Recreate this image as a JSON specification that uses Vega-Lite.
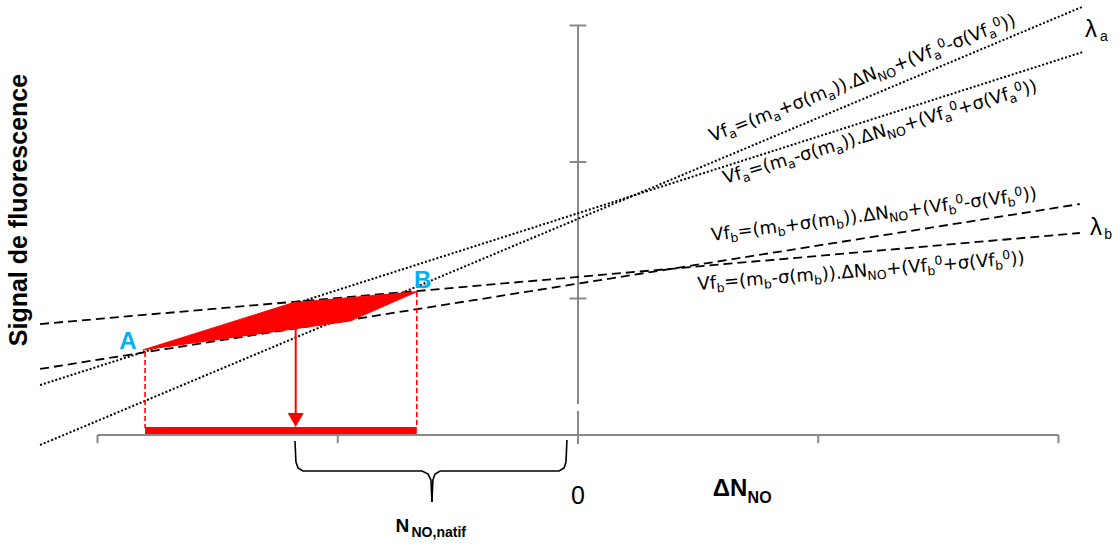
{
"$schema": "https://vega.github.io/schema/vega-lite/v6.json",
"width": 1120, "height": 547, "padding": 0, "autosize": {"type": "none"},
"background": "#ffffff",
"config": {"view": {"stroke": null}},
"datasets": {
"axis": [
{"x": -20, "y": 0, "x2": 20, "y2": 0},
{"x": -20, "y": 0, "x2": -20, "y2": -0.6},
{"x": -10, "y": 0, "x2": -10, "y2": -0.6},
{"x": 10, "y": 0, "x2": 10, "y2": -0.6},
{"x": 20, "y": 0, "x2": 20, "y2": -0.6},
{"x": 0, "y": 30, "x2": 0, "y2": 2.27},
{"x": 0, "y": 1.76, "x2": 0, "y2": -0.66},
{"x": -0.35, "y": 10, "x2": 0.35, "y2": 10},
{"x": -0.35, "y": 20, "x2": 0.35, "y2": 20},
{"x": -0.35, "y": 30, "x2": 0.35, "y2": 30}
],
"dotted": [
{"x": -22.39, "y": -0.73, "x2": 20.98, "y2": 31.36},
{"x": -22.39, "y": 3.66, "x2": 21.02, "y2": 28.06}
],
"dashed": [
{"x": -22.39, "y": 8.13, "x2": 20.89, "y2": 14.80},
{"x": -22.39, "y": 4.84, "x2": 20.89, "y2": 16.92}
],
"poly": [
{"o": 1, "x": -18.11, "y": 6.23},
{"o": 2, "x": -11.86, "y": 9.69},
{"o": 3, "x": -6.71, "y": 10.50},
{"o": 4, "x": -9.49, "y": 8.35},
{"o": 5, "x": -18.11, "y": 6.23}
],
"reddash": [
{"x": -18.02, "y": 6.08, "x2": -18.02, "y2": 0.51},
{"x": -6.71, "y": 10.48, "x2": -6.71, "y2": 0.51}
],
"redbar": [{"x": -18.02, "y": 0.33, "x2": -6.71, "y2": 0.33}],
"arrow": [{"x": -11.75, "y": 7.91, "x2": -11.75, "y2": 1.54}],
"head": [{"x": -11.75, "y": 1.10}],
"brace": [
{"g": "L", "o": 1, "x": -11.78, "y": -0.44},
{"g": "L", "o": 2, "x": -11.74, "y": -1.98},
{"g": "L", "o": 3, "x": -11.65, "y": -2.42},
{"g": "L", "o": 4, "x": -11.45, "y": -2.64},
{"g": "L", "o": 5, "x": -6.49, "y": -2.64},
{"g": "L", "o": 6, "x": -6.24, "y": -2.86},
{"g": "L", "o": 7, "x": -6.12, "y": -3.30},
{"g": "L", "o": 8, "x": -6.08, "y": -4.91},
{"g": "R", "o": 1, "x": -0.46, "y": -0.37},
{"g": "R", "o": 2, "x": -0.50, "y": -1.98},
{"g": "R", "o": 3, "x": -0.58, "y": -2.42},
{"g": "R", "o": 4, "x": -0.79, "y": -2.64},
{"g": "R", "o": 5, "x": -5.74, "y": -2.64},
{"g": "R", "o": 6, "x": -5.95, "y": -2.86},
{"g": "R", "o": 7, "x": -6.04, "y": -3.30},
{"g": "R", "o": 8, "x": -6.08, "y": -4.91}
],
"ylabel": [{"x": -22.93, "y": 16.48, "t": "Signal de fluorescence"}],
"ab": [{"x": -18.73, "y": 6.30, "t": "A"}, {"x": -6.47, "y": 10.77, "t": "B"}],
"zero": [{"x": 0, "y": -5.05, "t": "0"}],
"dn": [{"x": 5.61, "y": -4.47, "t": "ΔN"}],
"dnsub": [{"x": 7.06, "y": -4.96, "t": "NO"}],
"nat": [{"x": -7.60, "y": -7.08, "t": "N"}],
"natsub": [{"x": -6.93, "y": -7.45, "t": "NO,natif"}],
"lam": [{"x": 21.10, "y": 29.16, "t": "λ"}, {"x": 21.31, "y": 14.65, "t": "λ"}],
"lamsub": [{"x": 21.73, "y": 28.86, "t": "a"}, {"x": 21.90, "y": 14.36, "t": "b"}],
"eq": [
{"eq": "a1", "p": "m", "t": "Vf", "x": 5.578, "y": 21.465},
{"eq": "a1", "p": "sub", "t": "a", "x": 6.302, "y": 21.955},
{"eq": "a1", "p": "m", "t": "=(m", "x": 6.600, "y": 22.156},
{"eq": "a1", "p": "sub", "t": "a", "x": 8.140, "y": 23.197},
{"eq": "a1", "p": "m", "t": "+σ(m", "x": 8.438, "y": 23.398},
{"eq": "a1", "p": "sub", "t": "a", "x": 10.422, "y": 24.738},
{"eq": "a1", "p": "m", "t": ")).ΔN", "x": 10.719, "y": 24.939},
{"eq": "a1", "p": "sub", "t": "NO", "x": 12.489, "y": 26.136},
{"eq": "a1", "p": "m", "t": "+(Vf", "x": 13.235, "y": 26.639},
{"eq": "a1", "p": "sub", "t": "a", "x": 14.818, "y": 27.709},
{"eq": "a1", "p": "sup", "t": "0", "x": 15.116, "y": 27.910},
{"eq": "a1", "p": "m", "t": "-σ(Vf", "x": 15.425, "y": 28.119},
{"eq": "a1", "p": "sub", "t": "a", "x": 17.118, "y": 29.263},
{"eq": "a1", "p": "sup", "t": "0", "x": 17.416, "y": 29.464},
{"eq": "a1", "p": "m", "t": "))", "x": 17.725, "y": 29.672},
{"eq": "a2", "p": "m", "t": "Vf", "x": 6.119, "y": 18.388},
{"eq": "a2", "p": "sub", "t": "a", "x": 6.863, "y": 18.777},
{"eq": "a2", "p": "m", "t": "=(m", "x": 7.169, "y": 18.935},
{"eq": "a2", "p": "sub", "t": "a", "x": 8.750, "y": 19.760},
{"eq": "a2", "p": "m", "t": "-σ(m", "x": 9.056, "y": 19.920},
{"eq": "a2", "p": "sub", "t": "a", "x": 10.751, "y": 20.803},
{"eq": "a2", "p": "m", "t": ")).ΔN", "x": 11.057, "y": 20.963},
{"eq": "a2", "p": "sub", "t": "NO", "x": 12.874, "y": 21.910},
{"eq": "a2", "p": "m", "t": "+(Vf", "x": 13.640, "y": 22.309},
{"eq": "a2", "p": "sub", "t": "a", "x": 15.266, "y": 23.158},
{"eq": "a2", "p": "sup", "t": "0", "x": 15.572, "y": 23.317},
{"eq": "a2", "p": "m", "t": "+σ(Vf", "x": 15.889, "y": 23.482},
{"eq": "a2", "p": "sub", "t": "a", "x": 17.970, "y": 24.567},
{"eq": "a2", "p": "sup", "t": "0", "x": 18.276, "y": 24.727},
{"eq": "a2", "p": "m", "t": "))", "x": 18.594, "y": 24.893},
{"eq": "b1", "p": "m", "t": "Vf", "x": 5.578, "y": 14.212},
{"eq": "b1", "p": "sub", "t": "b", "x": 6.348, "y": 14.386},
{"eq": "b1", "p": "m", "t": "=(m", "x": 6.675, "y": 14.460},
{"eq": "b1", "p": "sub", "t": "b", "x": 8.312, "y": 14.829},
{"eq": "b1", "p": "m", "t": "+σ(m", "x": 8.640, "y": 14.903},
{"eq": "b1", "p": "sub", "t": "b", "x": 10.747, "y": 15.378},
{"eq": "b1", "p": "m", "t": ")).ΔN", "x": 11.075, "y": 15.452},
{"eq": "b1", "p": "sub", "t": "NO", "x": 12.955, "y": 15.876},
{"eq": "b1", "p": "m", "t": "+(Vf", "x": 13.747, "y": 16.054},
{"eq": "b1", "p": "sub", "t": "b", "x": 15.430, "y": 16.434},
{"eq": "b1", "p": "sup", "t": "0", "x": 15.758, "y": 16.508},
{"eq": "b1", "p": "m", "t": "-σ(Vf", "x": 16.086, "y": 16.582},
{"eq": "b1", "p": "sub", "t": "b", "x": 17.885, "y": 16.988},
{"eq": "b1", "p": "sup", "t": "0", "x": 18.213, "y": 17.061},
{"eq": "b1", "p": "m", "t": "))", "x": 18.541, "y": 17.136},
{"eq": "b2", "p": "m", "t": "Vf", "x": 4.995, "y": 10.623},
{"eq": "b2", "p": "sub", "t": "b", "x": 5.769, "y": 10.733},
{"eq": "b2", "p": "m", "t": "=(m", "x": 6.098, "y": 10.779},
{"eq": "b2", "p": "sub", "t": "b", "x": 7.743, "y": 11.012},
{"eq": "b2", "p": "m", "t": "-σ(m", "x": 8.072, "y": 11.059},
{"eq": "b2", "p": "sub", "t": "b", "x": 9.834, "y": 11.308},
{"eq": "b2", "p": "m", "t": ")).ΔN", "x": 10.163, "y": 11.355},
{"eq": "b2", "p": "sub", "t": "NO", "x": 12.052, "y": 11.622},
{"eq": "b2", "p": "m", "t": "+(Vf", "x": 12.849, "y": 11.735},
{"eq": "b2", "p": "sub", "t": "b", "x": 14.540, "y": 11.974},
{"eq": "b2", "p": "sup", "t": "0", "x": 14.869, "y": 12.021},
{"eq": "b2", "p": "m", "t": "+σ(Vf", "x": 15.199, "y": 12.068},
{"eq": "b2", "p": "sub", "t": "b", "x": 17.363, "y": 12.374},
{"eq": "b2", "p": "sup", "t": "0", "x": 17.692, "y": 12.420},
{"eq": "b2", "p": "m", "t": "))", "x": 18.022, "y": 12.467}
]
},
"encoding": {
"x": {"field": "x", "type": "quantitative", "scale": {"domain": [-24.058, 22.560], "nice": false, "zero": false}, "axis": null},
"y": {"field": "y", "type": "quantitative", "scale": {"domain": [-8.205, 31.868], "nice": false, "zero": false}, "axis": null}
},
"layer": [
{"data": {"name": "axis"}, "mark": {"type": "rule", "stroke": "#898989", "strokeWidth": 2}, "encoding": {"x2": {"field": "x2"}, "y2": {"field": "y2"}}},
{"data": {"name": "dotted"}, "mark": {"type": "rule", "stroke": "#000000", "strokeWidth": 2, "strokeDash": [2, 2]}, "encoding": {"x2": {"field": "x2"}, "y2": {"field": "y2"}}},
{"data": {"name": "dashed"}, "mark": {"type": "rule", "stroke": "#000000", "strokeWidth": 1.8, "strokeDash": [9, 5]}, "encoding": {"x2": {"field": "x2"}, "y2": {"field": "y2"}}},
{"data": {"name": "poly"}, "mark": {"type": "line", "fill": "#ff0000", "stroke": "#ff0000", "strokeWidth": 1, "interpolate": "linear"}, "encoding": {"order": {"field": "o", "type": "quantitative"}}},
{"data": {"name": "reddash"}, "mark": {"type": "rule", "stroke": "#ff0000", "strokeWidth": 1.6, "strokeDash": [5, 3]}, "encoding": {"x2": {"field": "x2"}, "y2": {"field": "y2"}}},
{"data": {"name": "redbar"}, "mark": {"type": "rule", "stroke": "#ff0000", "strokeWidth": 7}, "encoding": {"x2": {"field": "x2"}, "y2": {"field": "y2"}}},
{"data": {"name": "arrow"}, "mark": {"type": "rule", "stroke": "#ff0000", "strokeWidth": 2}, "encoding": {"x2": {"field": "x2"}, "y2": {"field": "y2"}}},
{"data": {"name": "head"}, "mark": {"type": "point", "shape": "triangle-down", "size": 256, "filled": true, "fill": "#ff0000", "strokeWidth": 0, "opacity": 1}},
{"data": {"name": "brace"}, "mark": {"type": "line", "stroke": "#000000", "strokeWidth": 1.6}, "encoding": {"order": {"field": "o", "type": "quantitative"}, "detail": {"field": "g", "type": "nominal"}}},
{"data": {"name": "ylabel"}, "mark": {"type": "text", "angle": 270, "align": "center", "baseline": "alphabetic", "font": "Liberation Sans", "fontWeight": "bold", "fontSize": 25, "fill": "#000000"}, "encoding": {"text": {"field": "t", "type": "nominal"}}},
{"data": {"name": "ab"}, "mark": {"type": "text", "align": "center", "baseline": "alphabetic", "font": "Liberation Sans", "fontWeight": "bold", "fontSize": 24, "fill": "#00b0f0"}, "encoding": {"text": {"field": "t", "type": "nominal"}}},
{"data": {"name": "zero"}, "mark": {"type": "text", "align": "center", "baseline": "alphabetic", "font": "Liberation Sans", "fontSize": 25, "fill": "#000000"}, "encoding": {"text": {"field": "t", "type": "nominal"}}},
{"data": {"name": "dn"}, "mark": {"type": "text", "align": "left", "baseline": "alphabetic", "font": "Liberation Sans", "fontWeight": "bold", "fontSize": 24, "fill": "#000000"}, "encoding": {"text": {"field": "t", "type": "nominal"}}},
{"data": {"name": "dnsub"}, "mark": {"type": "text", "align": "left", "baseline": "alphabetic", "font": "Liberation Sans", "fontWeight": "bold", "fontSize": 16, "fill": "#000000"}, "encoding": {"text": {"field": "t", "type": "nominal"}}},
{"data": {"name": "nat"}, "mark": {"type": "text", "align": "left", "baseline": "alphabetic", "font": "Liberation Sans", "fontWeight": "bold", "fontSize": 19, "fill": "#000000"}, "encoding": {"text": {"field": "t", "type": "nominal"}}},
{"data": {"name": "natsub"}, "mark": {"type": "text", "align": "left", "baseline": "alphabetic", "font": "Liberation Sans", "fontWeight": "bold", "fontSize": 14, "fill": "#000000"}, "encoding": {"text": {"field": "t", "type": "nominal"}}},
{"data": {"name": "lam"}, "mark": {"type": "text", "align": "left", "baseline": "alphabetic", "font": "Liberation Sans", "fontSize": 24, "fill": "#000000"}, "encoding": {"text": {"field": "t", "type": "nominal"}}},
{"data": {"name": "lamsub"}, "mark": {"type": "text", "align": "left", "baseline": "alphabetic", "font": "Liberation Sans", "fontSize": 14, "fill": "#000000"}, "encoding": {"text": {"field": "t", "type": "nominal"}}},
{"data": {"name": "eq"}, "transform": [{"filter": "datum.eq === 'a1' && datum.p === 'm'"}], "mark": {"type": "text", "angle": 339, "align": "left", "baseline": "alphabetic", "font": "DejaVu Sans", "fontSize": 18, "fill": "#000000"}, "encoding": {"text": {"field": "t", "type": "nominal"}}},
{"data": {"name": "eq"}, "transform": [{"filter": "datum.eq === 'a1' && datum.p === 'sub'"}], "mark": {"type": "text", "angle": 339, "dy": 4, "align": "left", "baseline": "alphabetic", "font": "DejaVu Sans", "fontSize": 12.5, "fill": "#000000"}, "encoding": {"text": {"field": "t", "type": "nominal"}}},
{"data": {"name": "eq"}, "transform": [{"filter": "datum.eq === 'a1' && datum.p === 'sup'"}], "mark": {"type": "text", "angle": 339, "dy": -6, "align": "left", "baseline": "alphabetic", "font": "DejaVu Sans", "fontSize": 12.5, "fill": "#000000"}, "encoding": {"text": {"field": "t", "type": "nominal"}}},
{"data": {"name": "eq"}, "transform": [{"filter": "datum.eq === 'a2' && datum.p === 'm'"}], "mark": {"type": "text", "angle": 343.5, "align": "left", "baseline": "alphabetic", "font": "DejaVu Sans", "fontSize": 18, "fill": "#000000"}, "encoding": {"text": {"field": "t", "type": "nominal"}}},
{"data": {"name": "eq"}, "transform": [{"filter": "datum.eq === 'a2' && datum.p === 'sub'"}], "mark": {"type": "text", "angle": 343.5, "dy": 4, "align": "left", "baseline": "alphabetic", "font": "DejaVu Sans", "fontSize": 12.5, "fill": "#000000"}, "encoding": {"text": {"field": "t", "type": "nominal"}}},
{"data": {"name": "eq"}, "transform": [{"filter": "datum.eq === 'a2' && datum.p === 'sup'"}], "mark": {"type": "text", "angle": 343.5, "dy": -6, "align": "left", "baseline": "alphabetic", "font": "DejaVu Sans", "fontSize": 12.5, "fill": "#000000"}, "encoding": {"text": {"field": "t", "type": "nominal"}}},
{"data": {"name": "eq"}, "transform": [{"filter": "datum.eq === 'b1' && datum.p === 'm'"}], "mark": {"type": "text", "angle": 352.7, "align": "left", "baseline": "alphabetic", "font": "DejaVu Sans", "fontSize": 18, "fill": "#000000"}, "encoding": {"text": {"field": "t", "type": "nominal"}}},
{"data": {"name": "eq"}, "transform": [{"filter": "datum.eq === 'b1' && datum.p === 'sub'"}], "mark": {"type": "text", "angle": 352.7, "dy": 4, "align": "left", "baseline": "alphabetic", "font": "DejaVu Sans", "fontSize": 12.5, "fill": "#000000"}, "encoding": {"text": {"field": "t", "type": "nominal"}}},
{"data": {"name": "eq"}, "transform": [{"filter": "datum.eq === 'b1' && datum.p === 'sup'"}], "mark": {"type": "text", "angle": 352.7, "dy": -6, "align": "left", "baseline": "alphabetic", "font": "DejaVu Sans", "fontSize": 12.5, "fill": "#000000"}, "encoding": {"text": {"field": "t", "type": "nominal"}}},
{"data": {"name": "eq"}, "transform": [{"filter": "datum.eq === 'b2' && datum.p === 'm'"}], "mark": {"type": "text", "angle": 355.4, "align": "left", "baseline": "alphabetic", "font": "DejaVu Sans", "fontSize": 18, "fill": "#000000"}, "encoding": {"text": {"field": "t", "type": "nominal"}}},
{"data": {"name": "eq"}, "transform": [{"filter": "datum.eq === 'b2' && datum.p === 'sub'"}], "mark": {"type": "text", "angle": 355.4, "dy": 4, "align": "left", "baseline": "alphabetic", "font": "DejaVu Sans", "fontSize": 12.5, "fill": "#000000"}, "encoding": {"text": {"field": "t", "type": "nominal"}}},
{"data": {"name": "eq"}, "transform": [{"filter": "datum.eq === 'b2' && datum.p === 'sup'"}], "mark": {"type": "text", "angle": 355.4, "dy": -6, "align": "left", "baseline": "alphabetic", "font": "DejaVu Sans", "fontSize": 12.5, "fill": "#000000"}, "encoding": {"text": {"field": "t", "type": "nominal"}}}
]
}
